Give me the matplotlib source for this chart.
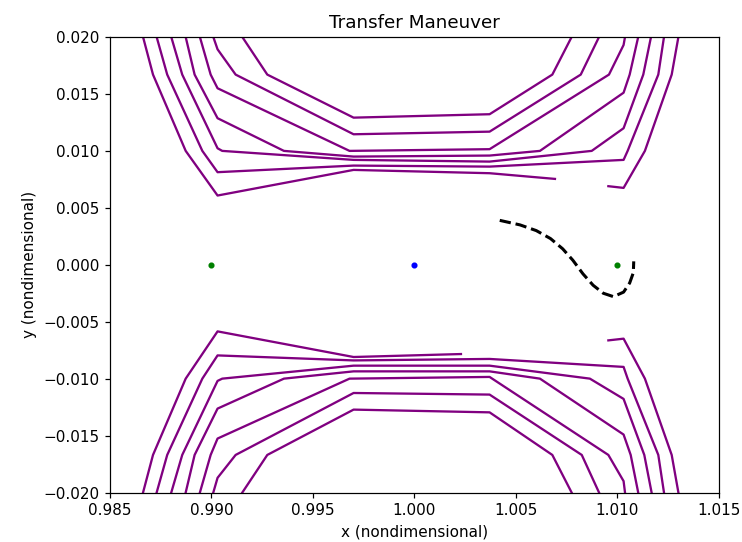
import matplotlib
matplotlib.use("Agg")
import matplotlib.pyplot as plt

# zero-velocity contour lines (upper half)
a_up_x = [0.98663, 0.98712, 0.98873, 0.9903, 0.9970, 1.0037, 1.00692]
a_up_y = [0.0200, 0.0167, 0.0100, 0.00608, 0.00833, 0.00804, 0.00754]
b_up_x = [0.9873, 0.98782, 0.98955, 0.9903, 0.9970, 1.0037, 1.0103, 1.0105, 1.01201, 1.01229]
b_up_y = [0.0200, 0.0167, 0.0100, 0.00813, 0.00871, 0.00862, 0.00921, 0.0100, 0.0167, 0.0200]
c_up_x = [0.98802, 0.98856, 0.9903, 0.99053, 0.9970, 1.0037, 1.00873, 1.0103, 1.01127, 1.01165]
c_up_y = [0.0200, 0.0167, 0.01023, 0.0100, 0.00921, 0.00906, 0.0100, 0.01199, 0.0167, 0.0200]
d_up_x = [0.98873, 0.98917, 0.9903, 0.99357, 0.9970, 1.0037, 1.00618, 1.0103, 1.0106, 1.01102]
d_up_y = [0.0200, 0.0167, 0.01287, 0.0100, 0.0095, 0.00959, 0.0100, 0.01511, 0.0167, 0.0200]
e_up_x = [0.98943, 0.98996, 0.9903, 0.9968, 1.0037, 1.00958, 1.0103, 1.01037]
e_up_y = [0.0200, 0.0167, 0.0155, 0.0100, 0.01015, 0.0167, 0.0193, 0.0200]
f_up_x = [0.99009, 0.9903, 0.99119, 0.9970, 1.0037, 1.00819, 1.00909]
f_up_y = [0.0200, 0.01892, 0.0167, 0.01146, 0.01169, 0.0167, 0.0200]
g_up_x = [0.99152, 0.99275, 0.9970, 1.0037, 1.00679, 1.00774]
g_up_y = [0.0200, 0.0167, 0.01292, 0.01322, 0.0167, 0.0200]
hook_up_x = [1.0130, 1.01267, 1.01135, 1.0103, 1.00955]
hook_up_y = [0.0200, 0.0167, 0.0100, 0.00675, 0.0069]

# lower half
a_lo_x = [0.98663, 0.98712, 0.98873, 0.9903, 0.9970, 1.00229]
a_lo_y = [-0.0200, -0.0167, -0.0100, -0.00585, -0.0081, -0.00784]
b_lo_x = [0.9873, 0.98782, 0.98955, 0.9903, 0.9970, 1.0037, 1.0103, 1.0105, 1.01201, 1.01229]
b_lo_y = [-0.0200, -0.0167, -0.0100, -0.00796, -0.0084, -0.00827, -0.00897, -0.0100, -0.0167, -0.0200]
c_lo_x = [0.98802, 0.98856, 0.9903, 0.99053, 0.9970, 1.0037, 1.00864, 1.0103, 1.01132, 1.01168]
c_lo_y = [-0.0200, -0.0167, -0.0102, -0.0100, -0.00886, -0.00886, -0.0100, -0.01178, -0.0167, -0.0200]
d_lo_x = [0.98873, 0.98917, 0.9903, 0.99357, 0.9970, 1.0037, 1.00618, 1.0103, 1.01065, 1.01102]
d_lo_y = [-0.0200, -0.0167, -0.01263, -0.0100, -0.00936, -0.00936, -0.0100, -0.01491, -0.0167, -0.0200]
e_lo_x = [0.98943, 0.98996, 0.9903, 0.9968, 1.0037, 1.00955, 1.0103, 1.01037]
e_lo_y = [-0.0200, -0.0167, -0.01526, -0.0100, -0.00985, -0.0167, -0.0190, -0.0200]
f_lo_x = [0.99009, 0.9903, 0.99119, 0.9970, 1.0037, 1.00824, 1.00909]
f_lo_y = [-0.0200, -0.01871, -0.0167, -0.01126, -0.0114, -0.0167, -0.0200]
g_lo_x = [0.99152, 0.99275, 0.9970, 1.0037, 1.00679, 1.00774]
g_lo_y = [-0.0200, -0.0167, -0.01272, -0.01296, -0.0167, -0.0200]
hook_lo_x = [1.0130, 1.01267, 1.01135, 1.0103, 1.00955]
hook_lo_y = [-0.0200, -0.0167, -0.0100, -0.00649, -0.00664]

# transfer trajectory
traj_x = [1.0042, 1.0052, 1.0060, 1.0067, 1.0073, 1.0078, 1.0083, 1.0088,
          1.0093, 1.0098, 1.0103, 1.0106, 1.01078, 1.0108]
traj_y = [0.0039, 0.0035, 0.0030, 0.0023, 0.0014, 0.0004, -0.0008, -0.0018,
          -0.0025, -0.0028, -0.0024, -0.0016, -0.0007, 0.0003]

# Lagrange points and Earth
lagr_x = [0.99, 1.01]
lagr_y = [0.0, 0.0]
earth_x = [1.0]
earth_y = [0.0]

fig = plt.figure(figsize=(742 / 110, 542 / 110), dpi=110)
ax = fig.add_axes([0.1482, 0.0913, 0.969 - 0.1482, 0.9317 - 0.0913])

contours = [(a_up_x, a_up_y), (b_up_x, b_up_y), (c_up_x, c_up_y), (d_up_x, d_up_y),
            (e_up_x, e_up_y), (f_up_x, f_up_y), (g_up_x, g_up_y), (hook_up_x, hook_up_y),
            (a_lo_x, a_lo_y), (b_lo_x, b_lo_y), (c_lo_x, c_lo_y), (d_lo_x, d_lo_y),
            (e_lo_x, e_lo_y), (f_lo_x, f_lo_y), (g_lo_x, g_lo_y), (hook_lo_x, hook_lo_y)]
for cx, cy in contours:
    ax.plot(cx, cy, color='purple', lw=1.5)

ax.plot(traj_x, traj_y, 'k--', lw=2)
ax.plot(lagr_x, lagr_y, 'g.')
ax.plot(earth_x, earth_y, 'b.')

ax.set_xlim(0.985, 1.015)
ax.set_ylim(-0.02, 0.02)
ax.ticklabel_format(useOffset=False)
ax.set_title('Transfer Maneuver')
ax.set_xlabel('x (nondimensional)')
ax.set_ylabel('y (nondimensional)')

fig.savefig('out.png', dpi=110)
